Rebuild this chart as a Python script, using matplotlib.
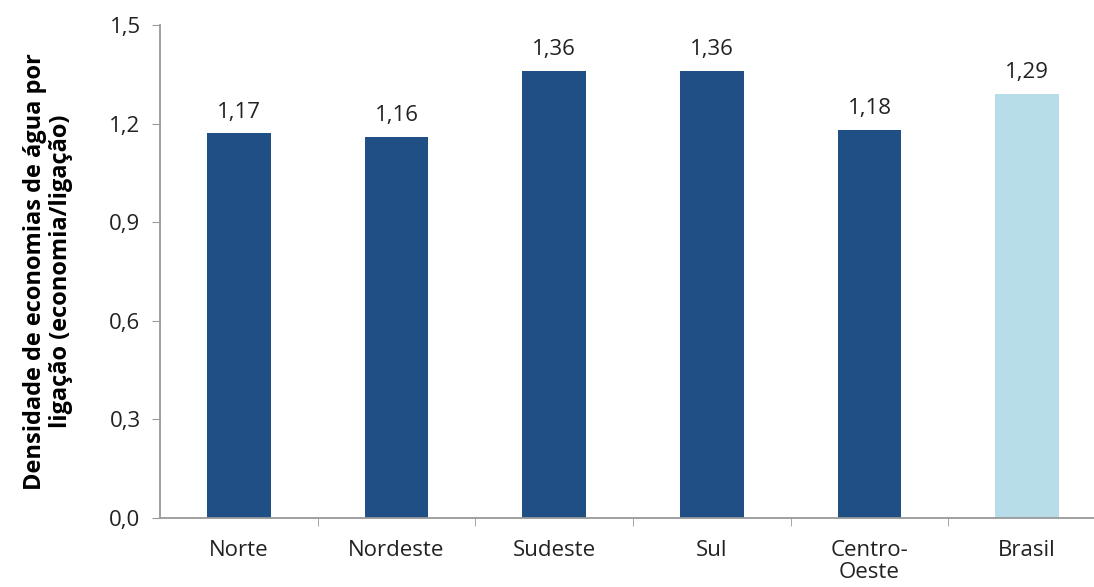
import matplotlib.pyplot as plt
from matplotlib.ticker import FuncFormatter

regioes = ['Norte', 'Nordeste', 'Sudeste', 'Sul', 'Centro-\nOeste', 'Brasil']
densidade = [1.17, 1.16, 1.36, 1.36, 1.18, 1.29]
cores = ['#204F86'] * 5 + ['#B7DDE8']
yticks = [0.0, 0.3, 0.6, 0.9, 1.2, 1.5]

plt.rcParams['font.family'] = ['Open Sans', 'DejaVu Sans']

fig = plt.figure(figsize=(10.94, 5.87), dpi=100)
ax = fig.add_axes([0.1463, 0.1175, 0.8647, 0.8399])

x = list(range(len(regioes)))
bars = ax.bar(x, densidade, width=0.405, color=cores)
for b, v in zip(bars, densidade):
    ax.text(b.get_x() + b.get_width() / 2, v + 0.033, f'{v:.2f}'.replace('.', ','),
            ha='center', va='bottom', fontsize=16, color='#222222')

ax.set_xlim(-0.5, len(regioes) - 0.5)
ax.set_ylim(0, 1.5)
ax.set_yticks(yticks)
ax.yaxis.set_major_formatter(FuncFormatter(lambda v, p: f'{v:.1f}'.replace('.', ',')))
ax.set_xticks(x)
ax.set_xticklabels(regioes, fontsize=16, color='#222222', linespacing=1.05)
ax.set_xticks([i + 0.5 for i in x], minor=True)
ax.tick_params(axis='x', which='major', length=0, pad=16)
ax.tick_params(axis='x', which='minor', length=6, color='#999999', direction='out')
ax.tick_params(axis='y', length=6, color='#999999', labelsize=16, labelcolor='#222222', pad=8)
for s in ['top', 'right']:
    ax.spines[s].set_visible(False)
for s in ['left', 'bottom']:
    ax.spines[s].set_color('#999999')
    ax.spines[s].set_linewidth(1.3)

ax.set_ylabel('Densidade de economias de água por\nligação (economia/ligação)',
              fontsize=17, fontweight='bold', labelpad=26, linespacing=1.15)

fig.savefig('out.png', dpi=100)
